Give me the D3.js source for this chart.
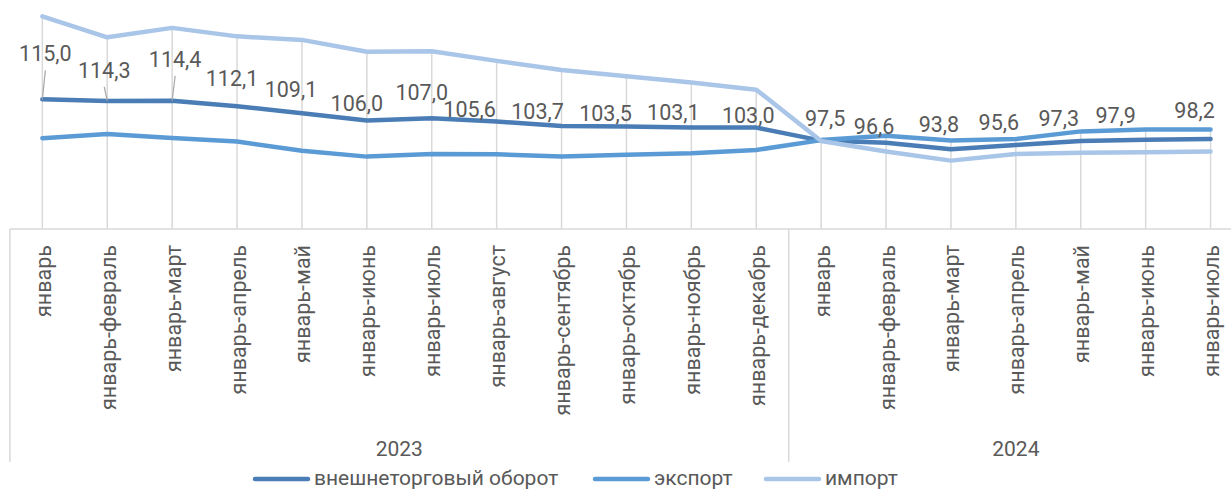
<!DOCTYPE html>
<html lang="ru">
<head>
<meta charset="utf-8">
<script src="https://cdn.jsdelivr.net/npm/d3@7.9.0/dist/d3.min.js"></script>
<style>
  body { margin: 0; background: #fff; }
  svg { display: block; font-family: Roboto, "Noto Sans", sans-serif; }
</style>
</head>
<body>
<svg id="chart" width="1231" height="491"></svg>
<script>
// Data
const months = ['январь', 'январь-февраль', 'январь-март', 'январь-апрель', 'январь-май',
    'январь-июнь', 'январь-июль', 'январь-август', 'январь-сентябрь', 'январь-октябрь',
    'январь-ноябрь', 'январь-декабрь',
    'январь', 'январь-февраль', 'январь-март', 'январь-апрель', 'январь-май',
    'январь-июнь', 'январь-июль'];
const years = ['2023', '2024'];
const yearCounts = [12, 7];

const turnover = [115.0, 114.3, 114.4, 112.1, 109.1, 106.0, 107.0, 105.6, 103.7, 103.5,
    103.1, 103.0, 97.5, 96.6, 93.8, 95.6, 97.3, 97.9, 98.2];
const exportVals = [98.5, 100.3, 98.6, 97.1, 93.2, 90.7, 91.8, 91.7, 90.7, 91.5,
    92.1, 93.5, 97.7, 99.6, 97.5, 98.2, 101.4, 102.2, 102.2];
const importVals = [150.2, 141.3, 145.3, 141.7, 140.2, 135.2, 135.4, 131.3, 127.4, 124.8,
    122.1, 119.1, 97.3, 92.9, 89.0, 91.8, 92.3, 92.5, 92.9];

const seriesNames = ['внешнеторговый оборот', 'экспорт', 'импорт'];

// Label nudges (dx, dy) relative to each turnover point
const labelNudge = [[3, -38], [-3, -23], [3, -34], [-5, -20], [-11, -16], [-10, -10],
    [-10, -18], [-27, -4], [-24, -7], [-21, -5], [-18, -7], [-8, -5],
    [4, -15], [-12, -9], [-12, -17], [-17, -15], [-22, -15], [-30, -17], [-16, -21]];

const svg = d3.select('#chart');
const colors = ['#4a7db5', '#5b9bd5', '#a9c5e8'];
const textColor = '#595959';
const axisColor = '#d9d9d9';

const plotBottom = 229;
const axisBottom = 462;

// Scales
const idx = d3.range(months.length);
const x = d3.scaleBand().domain(idx).range([9.9, 9.9 + 64.9 * months.length]).padding(0);
const cx = (i) => x(i) + x.bandwidth() / 2;
const y = d3.scaleLinear().domain([60, 150]).range([plotBottom, 16.8]);

// Drop lines from highest series value to the axis
const allSeries = [turnover, exportVals, importVals];
svg.append('g')
    .selectAll('line')
    .data(idx)
    .join('line')
    .attr('x1', (i) => cx(i))
    .attr('x2', (i) => cx(i))
    .attr('y1', (i) => y(d3.max(allSeries, (s) => s[i])))
    .attr('y2', plotBottom)
    .attr('stroke', axisColor)
    .attr('stroke-width', 1.5);

// Category axis box
const axis = svg.append('g').attr('stroke', axisColor).attr('stroke-width', 1.5);
axis.append('line')
    .attr('x1', x(0)).attr('x2', 1231)
    .attr('y1', plotBottom).attr('y2', plotBottom);

let start = 0;
const groupEdges = [x(0)];
yearCounts.forEach((n) => {
    start += n;
    groupEdges.push(x(start - 1) + x.bandwidth());
});
groupEdges.forEach((gx) => {
    axis.append('line')
        .attr('x1', gx).attr('x2', gx)
        .attr('y1', plotBottom).attr('y2', axisBottom);
});

// Month labels (rotated)
svg.append('g')
    .selectAll('text')
    .data(idx)
    .join('text')
    .attr('transform', (i) => `translate(${cx(i) + 1},245) rotate(-90)`)
    .attr('text-anchor', 'end')
    .attr('dy', '0.35em')
    .attr('font-size', 21.5)
    .attr('fill', textColor)
    .text((i) => months[i]);

// Year labels
years.forEach((yr, k) => {
    svg.append('text')
        .attr('x', (groupEdges[k] + groupEdges[k + 1]) / 2)
        .attr('y', 456)
        .attr('text-anchor', 'middle')
        .attr('font-size', 21)
        .attr('fill', textColor)
        .text(yr);
});

// Lines
const line = d3.line().x((d, i) => cx(i)).y((d) => y(d));
allSeries.forEach((s, k) => {
    svg.append('path')
        .datum(s)
        .attr('d', line)
        .attr('fill', 'none')
        .attr('stroke', colors[k])
        .attr('stroke-width', 4.5)
        .attr('stroke-linejoin', 'round')
        .attr('stroke-linecap', 'round');
});

// Data labels for turnover with leader lines
const fmt = (v) => d3.format('.1f')(v).replace('.', ',');
turnover.forEach((v, i) => {
    const [dx, dy] = labelNudge[i];
    const lx = cx(i) + dx;
    const ly = y(v) + dy;
    if (dy <= -22) {
        svg.append('line')
            .attr('x1', cx(i)).attr('y1', y(v))
            .attr('x2', lx).attr('y2', ly + 9)
            .attr('stroke', '#a6a6a6')
            .attr('stroke-width', 1.2);
    }
    svg.append('text')
        .attr('x', lx)
        .attr('y', ly)
        .attr('text-anchor', 'middle')
        .attr('font-size', 21.5)
        .attr('fill', textColor)
        .text(fmt(v));
});

// Legend (raised a little so descenders stay inside the frame)
const legendX = [255, 595, 766];
seriesNames.forEach((name, k) => {
    const g = svg.append('g').attr('transform', `translate(${legendX[k]},479)`);
    g.append('line')
        .attr('x1', 0).attr('x2', 53)
        .attr('stroke', colors[k])
        .attr('stroke-width', 4.5)
        .attr('stroke-linecap', 'round');
    g.append('text')
        .attr('x', 59)
        .attr('y', 6)
        .attr('font-size', 21)
        .attr('fill', textColor)
        .text(name);
});
</script>
</body>
</html>
